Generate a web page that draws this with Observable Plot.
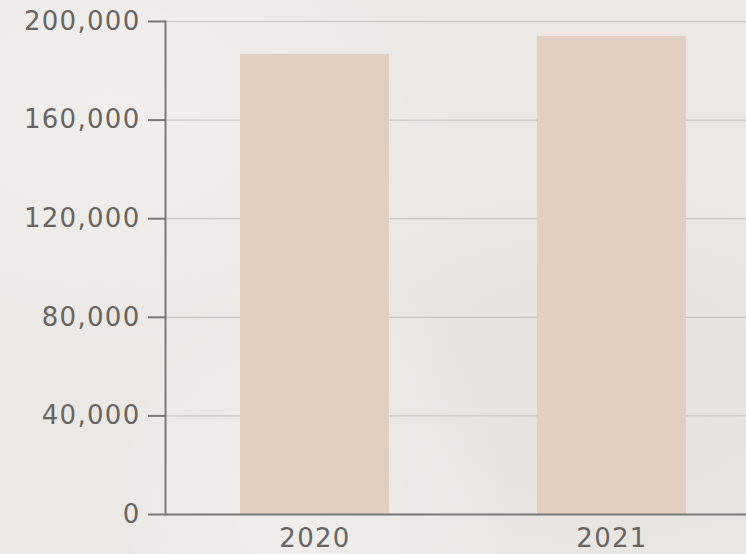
<!DOCTYPE html>
<html>
<head>
<meta charset="utf-8">
<script src="https://cdn.jsdelivr.net/npm/d3@7"></script>
<script src="https://cdn.jsdelivr.net/npm/@observablehq/plot@0.6"></script>
<style>
  html, body { margin: 0; padding: 0; overflow: hidden; }
  body {
    width: 746px; height: 554px;
    background-color: #ebe8e4;
    background-image:
      radial-gradient(ellipse at 15% 20%, rgba(255,255,255,0.3), rgba(255,255,255,0) 40%),
      radial-gradient(ellipse at 80% 70%, rgba(220,216,210,0.3), rgba(220,216,210,0) 45%),
      radial-gradient(ellipse at 40% 90%, rgba(255,255,255,0.25), rgba(255,255,255,0) 35%);
  }
  #chart svg { display: block; overflow: visible; }
</style>
</head>
<body>
<div id="chart"></div>
<script>
const years = ["2020", "2021"];
const values = [186700, 193900];
const yTicks = [0, 40000, 80000, 120000, 160000, 200000];

const data = years.map((year, i) => ({year, value: values[i]}));

const textColor = "#676462";
const lineColor = "#7b7977";
const fontFamily = "'DejaVu Sans', sans-serif";

const chart = Plot.plot({
  width: 746,
  height: 554,
  marginTop: 21,
  marginBottom: 40,
  marginLeft: 165,
  marginRight: 0,
  style: {background: "transparent", fontFamily, fontSize: "26px", color: textColor, overflow: "visible"},
  x: {domain: years, range: [165, 760], paddingInner: 0.5, paddingOuter: 0.25, label: null},
  y: {domain: [0, 200000], label: null},
  marks: [
    Plot.gridY(yTicks, {stroke: "#c9c6c2", strokeOpacity: 1, strokeWidth: 1.2}),
    Plot.barY(data, {x: "year", y: "value", fill: "#e3cfc2"}),
    Plot.ruleY([0], {stroke: lineColor, strokeWidth: 2.2}),
    Plot.axisY(yTicks, {
      tickSize: 17, tickPadding: 8, stroke: lineColor, strokeWidth: 2, fill: textColor,
      tickFormat: d3.format(","), fontSize: 26, label: null
    }),
    Plot.frame({anchor: "left", stroke: lineColor, strokeWidth: 2}),
    Plot.axisX({tickSize: 0, tickPadding: 14, fill: textColor, fontSize: 26, label: null})
  ]
});

chart.querySelectorAll("text").forEach(t => t.setAttribute("letter-spacing", "1.3"));
document.getElementById("chart").appendChild(chart);
</script>
</body>
</html>
